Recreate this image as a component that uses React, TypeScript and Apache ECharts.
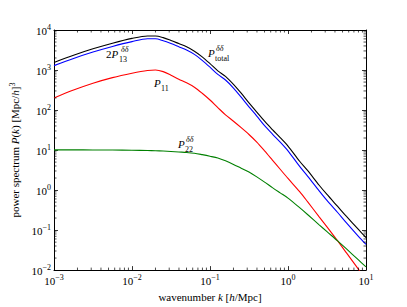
import React, { useEffect, useRef } from "react";
import * as echarts from "echarts";

// wavenumber k [h/Mpc]
const kValues = [
  0.001, 0.00178, 0.00316, 0.00562, 0.01, 0.0158, 0.02, 0.0251, 0.0316, 0.0398,
  0.0501, 0.0631, 0.0794, 0.1, 0.126, 0.158, 0.2, 0.251, 0.316, 0.398, 0.501,
  0.631, 0.794, 1.0, 1.41, 1.78, 2.51, 3.16, 4.33, 5.62, 7.94, 10,
];
// P_total
const pTotal = [
  1549, 2344, 3388, 4677, 6166, 7079, 7079, 6457, 5495, 4571, 3802, 2951, 2138,
  1445, 955, 692, 437, 263, 151, 89.1, 52.5, 32.4, 20.4, 12.6, 5.25, 3.09, 1.32,
  0.776, 0.389, 0.219, 0.105, 0.0646,
];
// 2 P_13
const p13x2 = [
  1288, 1950, 2818, 3890, 5129, 6026, 6026, 5370, 4571, 3802, 3162, 2455, 1738,
  1175, 776, 562, 355, 209, 120, 70.8, 40.7, 25.1, 15.8, 9.55, 3.89, 2.24, 0.955,
  0.55, 0.275, 0.151, 0.0708, 0.0437,
];
// P_11
const p11 = [
  200, 316, 468, 646, 832, 977, 1000, 912, 741, 589, 479, 372, 263, 178, 115,
  75.9, 52.5, 36.3, 24.5, 15.8, 9.55, 5.62, 3.31, 1.95, 0.912, 0.513, 0.214,
  0.12, 0.0537, 0.0269, 0.0107, 0.00575,
];
// P_22
const p22 = [
  10.1, 10.1, 10.07, 10.0, 9.89, 9.73, 9.62, 9.44, 9.23, 8.95, 8.71, 8.32, 7.67,
  7.0, 6.31, 5.37, 4.37, 3.51, 2.82, 2.14, 1.58, 1.15, 0.851, 0.631, 0.363,
  0.245, 0.135, 0.0912, 0.0537, 0.0339, 0.0182, 0.012,
];

const xMin = 0.001;
const xMax = 10;
const yMin = 0.01;
const yMax = 10000;
const xDecades = [-3, -2, -1, 0];
const yDecades = [-2, -1, 0, 1, 2, 3];
const minorMultipliers = [2, 3, 4, 5, 6, 7, 8, 9];

const FONT = "'Liberation Serif', 'DejaVu Serif', serif";

function pair(xs: number[], ys: number[]) {
  return xs.map((x, i) => [x, ys[i]]);
}

const tickRich = {
  b: { fontFamily: FONT, fontSize: 11, color: "#000", lineHeight: 13, verticalAlign: "bottom" as const },
  s: { fontFamily: FONT, fontSize: 8, color: "#000", lineHeight: 13, verticalAlign: "top" as const },
};

function powLabel(v: number) {
  const e = Math.round(Math.log10(v));
  const es = e < 0 ? "\u2212" + -e : String(e);
  return `{b|10}{s|${es}}`;
}

function mathLabel(
  x: number,
  y: number,
  main: string,
  sup: string | null,
  sub: string | null,
  supDx: number,
  subDx: number
) {
  const children: any[] = [
    {
      type: "text",
      x: 0,
      y: 0,
      style: {
        text: main,
        font: `11px ${FONT}`,
        fill: "#000",
        textVerticalAlign: "middle",
        rich: {
          n: { fontFamily: FONT, fontSize: 11, fill: "#000" },
          i: { fontFamily: FONT, fontSize: 11, fontStyle: "italic", fill: "#000" },
        },
      },
    },
  ];
  if (sup) {
    children.push({
      type: "text",
      x: supDx,
      y: -5,
      style: {
        text: sup,
        font: `italic 8px ${FONT}`,
        fill: "#000",
        textVerticalAlign: "middle",
      },
    });
  }
  if (sub) {
    children.push({
      type: "text",
      x: subDx,
      y: 5,
      style: {
        text: sub,
        font: `8px ${FONT}`,
        fill: "#000",
        textVerticalAlign: "middle",
      },
    });
  }
  return { type: "group", x, y, children };
}

export default function App() {
  const ref = useRef<HTMLDivElement>(null);

  useEffect(() => {
    if (!ref.current) return;
    const chart = echarts.init(ref.current, undefined, { renderer: "svg" });

    const minorData: number[][] = [];
    xDecades.forEach((d) =>
      minorMultipliers.forEach((m) => minorData.push([m * Math.pow(10, d), yMin, 0]))
    );
    yDecades.forEach((d) =>
      minorMultipliers.forEach((m) => minorData.push([xMin, m * Math.pow(10, d), 1]))
    );

    const axisLine = { show: true, onZero: false, lineStyle: { color: "#000", width: 1 } };
    const majorTick = { show: true, inside: true, length: 4, lineStyle: { color: "#000", width: 0.8 } };

    const lineSeries = (name: string, data: number[][], color: string) => ({
      name,
      type: "line",
      data,
      smooth: 0.3,
      showSymbol: false,
      symbol: "none",
      clip: true,
      lineStyle: { color, width: 1.1 },
      z: 3,
    });

    const option: any = {
      animation: false,
      backgroundColor: "#fff",
      grid: { left: 52, right: 41, top: 30, bottom: 32 },
      xAxis: [
        {
          type: "log",
          logBase: 10,
          min: xMin,
          max: xMax,
          position: "bottom",
          axisLine,
          axisTick: majorTick,
          splitLine: { show: false },
          axisLabel: { margin: 3, formatter: powLabel, rich: tickRich },
          name: "wavenumber {i|k} [{i|h}/Mpc]",
          nameLocation: "middle",
          nameGap: 16,
          nameTextStyle: {
            fontFamily: FONT,
            fontSize: 11,
            color: "#000",
            rich: {
              i: { fontFamily: FONT, fontSize: 11, fontStyle: "italic", color: "#000" },
            },
          },
        },
        {
          type: "log",
          logBase: 10,
          min: xMin,
          max: xMax,
          position: "top",
          axisLine,
          axisTick: majorTick,
          splitLine: { show: false },
          axisLabel: { show: false },
        },
      ],
      yAxis: [
        {
          type: "log",
          logBase: 10,
          min: yMin,
          max: yMax,
          splitNumber: 6,
          position: "left",
          axisLine,
          axisTick: majorTick,
          splitLine: { show: false },
          axisLabel: { margin: 3, formatter: powLabel, rich: tickRich },
          name: "power spectrum {i|P}({i|k}) [Mpc/{i|h}]{s|3}",
          nameLocation: "middle",
          nameGap: 33,
          nameRotate: 90,
          nameTextStyle: {
            fontFamily: FONT,
            fontSize: 11,
            color: "#000",
            rich: {
              i: { fontFamily: FONT, fontSize: 11, fontStyle: "italic", color: "#000" },
              s: { fontFamily: FONT, fontSize: 8, color: "#000", padding: [0, 0, 5, 0] },
            },
          },
        },
        {
          type: "log",
          logBase: 10,
          min: yMin,
          max: yMax,
          splitNumber: 6,
          position: "right",
          axisLine,
          axisTick: majorTick,
          splitLine: { show: false },
          axisLabel: { show: false },
        },
      ],
      series: [
        lineSeries("P11", pair(kValues, p11), "#ff0000"),
        lineSeries("P22", pair(kValues, p22), "#008000"),
        lineSeries("2P13", pair(kValues, p13x2), "#0000ff"),
        lineSeries("Ptotal", pair(kValues, pTotal), "#000000"),
        {
          type: "custom",
          silent: true,
          clip: false,
          z: 5,
          data: minorData,
          renderItem: (params: any, api: any) => {
            const flag = api.value(2);
            const st = { stroke: "#000", lineWidth: 0.7 };
            if (flag === 0) {
              const v = api.value(0);
              const b = api.coord([v, yMin]);
              const t = api.coord([v, yMax]);
              return {
                type: "group",
                children: [
                  { type: "line", shape: { x1: b[0], y1: b[1], x2: b[0], y2: b[1] - 2.5 }, style: st },
                  { type: "line", shape: { x1: t[0], y1: t[1], x2: t[0], y2: t[1] + 2.5 }, style: st },
                ],
              };
            }
            const v = api.value(1);
            const l = api.coord([xMin, v]);
            const r = api.coord([xMax, v]);
            return {
              type: "group",
              children: [
                { type: "line", shape: { x1: l[0], y1: l[1], x2: l[0] + 2.5, y2: l[1] }, style: st },
                { type: "line", shape: { x1: r[0], y1: r[1], x2: r[0] - 2.5, y2: r[1] }, style: st },
              ],
            };
          },
        },
      ],
      graphic: [
        mathLabel(106, 54, "{n|2}{i|P}", "\u03b4\u03b4", "13", 15, 13),
        mathLabel(208, 53, "{i|P}", "\u03b4\u03b4", "total", 8, 7),
        mathLabel(154, 83, "{i|P}", null, "11", 8, 7),
        mathLabel(178, 144, "{i|P}", "\u03b4\u03b4", "22", 8, 7),
      ],
    };

    chart.setOption(option);
    return () => chart.dispose();
  }, []);

  return (
    <div
      ref={ref}
      style={{ position: "absolute", left: 0, top: 0, width: 407, height: 307, background: "#fff" }}
    />
  );
}
